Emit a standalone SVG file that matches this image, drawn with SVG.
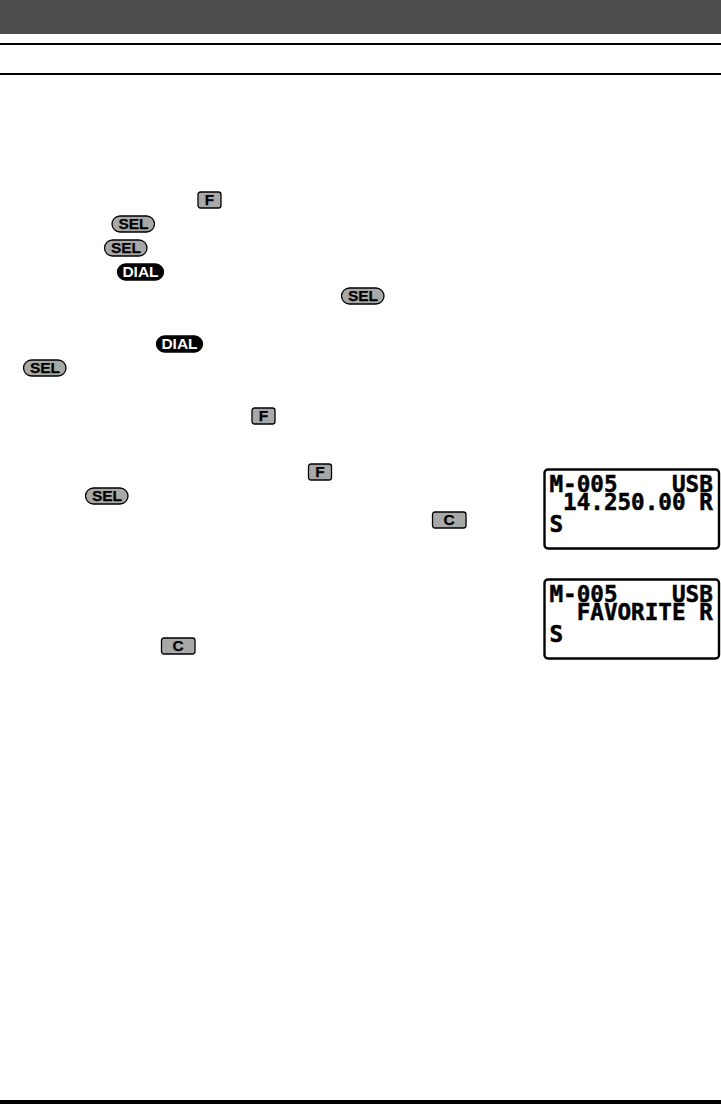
<svg xmlns="http://www.w3.org/2000/svg" width="721" height="1104" viewBox="0 0 721 1104">
<style>
.key{fill:#a8a8a8;stroke:#000;stroke-width:1.3}
.dial{fill:#000;stroke:#000;stroke-width:1.3}
.kt{font-family:"Liberation Sans",Arial,sans-serif;font-weight:700;font-size:15.5px;text-anchor:middle;fill:#000;stroke:#000;stroke-width:.25}
.dt{font-family:"Liberation Sans",Arial,sans-serif;font-weight:700;font-size:15.5px;text-anchor:middle;fill:#fff}
.lcd{fill:#fff;stroke:#000;stroke-width:2.4}
.lt{font-family:"DejaVu Sans Mono","Liberation Mono",monospace;font-weight:700;font-size:22.6px;fill:#000;white-space:pre;stroke:#000;stroke-width:.5}
</style>
<rect id="header-band" x="0" y="0" width="721" height="34" fill="#4d4d4d"/>
<rect id="rule-top" x="0" y="43" width="721" height="2" fill="#000"/>
<rect id="rule-mid" x="0" y="73" width="721" height="2" fill="#000"/>
<rect id="rule-bottom" x="0" y="1100" width="721" height="4" fill="#000"/>
<g id="connectors"/>
<g id="key-f1" transform="translate(198,192)"><rect class="key" width="23" height="16" rx="2.5"/><text class="kt" x="11.5" y="13.4">F</text></g>
<g id="key-sel1" transform="translate(112,216)"><rect class="key" width="42.5" height="16" rx="8"/><text class="kt" x="21.5" y="13.4">SEL</text></g>
<g id="key-sel2" transform="translate(104.5,240)"><rect class="key" width="42.5" height="16" rx="8"/><text class="kt" x="21.5" y="13.4">SEL</text></g>
<g id="key-dial1" transform="translate(117.5,264)"><rect class="dial" width="46" height="16" rx="8"/><text class="dt" x="23" y="13.4">DIAL</text></g>
<g id="key-sel3" transform="translate(341.5,288)"><rect class="key" width="42.5" height="16" rx="8"/><text class="kt" x="21.5" y="13.4">SEL</text></g>
<g id="key-dial2" transform="translate(156.5,336)"><rect class="dial" width="46" height="16" rx="8"/><text class="dt" x="23" y="13.4">DIAL</text></g>
<g id="key-sel4" transform="translate(23.5,360)"><rect class="key" width="42.5" height="16" rx="8"/><text class="kt" x="21.5" y="13.4">SEL</text></g>
<g id="key-f2" transform="translate(252,408)"><rect class="key" width="23" height="16" rx="2.5"/><text class="kt" x="11.5" y="13.4">F</text></g>
<g id="key-f3" transform="translate(308.5,464)"><rect class="key" width="23" height="16" rx="2.5"/><text class="kt" x="11.5" y="13.4">F</text></g>
<g id="key-sel5" transform="translate(85.5,488)"><rect class="key" width="42.5" height="16" rx="8"/><text class="kt" x="21.5" y="13.4">SEL</text></g>
<g id="key-c1" transform="translate(432.5,512)"><rect class="key" width="33.5" height="16" rx="2.5"/><text class="kt" x="16.7" y="13.4">C</text></g>
<g id="key-c2" transform="translate(161.5,638)"><rect class="key" width="33.5" height="16" rx="2.5"/><text class="kt" x="16.7" y="13.4">C</text></g>
<g id="lcd-frequency">
<rect class="lcd" x="544.5" y="469.5" width="174.5" height="79" rx="3.5"/>
<text class="lt" x="549.5" y="491.7">M-005    USB</text>
<text class="lt" x="549.5" y="510">&#160;14.250.00 R</text>
<text class="lt" x="549.5" y="531.7">S</text>
</g>
<g id="lcd-name">
<rect class="lcd" x="544.5" y="579.5" width="174.5" height="79" rx="3.5"/>
<text class="lt" x="549.5" y="601.7">M-005    USB</text>
<text class="lt" x="549.5" y="620">&#160;&#160;FAVORITE R</text>
<text class="lt" x="549.5" y="641.7">S</text>
</g>
</svg>
